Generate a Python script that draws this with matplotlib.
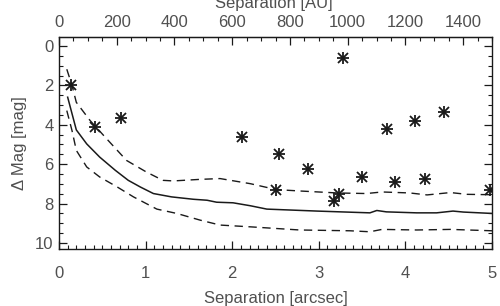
import matplotlib
matplotlib.use("Agg")
import matplotlib.pyplot as plt
from matplotlib.ticker import MultipleLocator, FixedLocator

plt.rcParams['font.family'] = ['Liberation Sans', 'DejaVu Sans']

# Detected companions / candidates (separation [arcsec], delta mag)
star_sep = [0.135, 0.42, 0.72, 2.11, 2.54, 2.51, 2.88, 3.18, 3.23, 3.28, 3.50, 3.79, 3.88, 4.11, 4.23, 4.44, 4.98]
star_dmag = [2.0, 4.1, 3.67, 4.63, 5.49, 7.3, 6.23, 7.86, 7.53, 0.62, 6.65, 4.2, 6.88, 3.79, 6.77, 3.33, 7.29]

# Median contrast curve
med_sep = [0.10, 0.20, 0.32, 0.47, 0.65, 0.80, 0.94, 1.09, 1.30, 1.55, 1.71, 1.82, 2.01, 2.21, 2.40, 2.98, 3.59, 3.67, 3.78, 4.13, 4.36, 4.55, 4.67, 5.0]
med_dmag = [2.6, 4.26, 4.97, 5.64, 6.31, 6.82, 7.16, 7.49, 7.66, 7.78, 7.83, 7.93, 7.96, 8.11, 8.28, 8.38, 8.47, 8.35, 8.42, 8.47, 8.47, 8.38, 8.43, 8.5]

# Upper (shallow) contrast envelope
up_sep = [0.09, 0.15, 0.20, 0.36, 0.55, 0.78, 1.01, 1.20, 1.32, 1.63, 1.86, 2.21, 2.51, 2.78, 3.21, 3.55, 3.73, 4.05, 4.25, 4.52, 4.71, 5.0]
up_dmag = [1.18, 2.0, 2.86, 3.79, 4.71, 5.81, 6.4, 6.82, 6.85, 6.77, 6.73, 6.99, 7.29, 7.36, 7.46, 7.49, 7.41, 7.46, 7.56, 7.44, 7.53, 7.55]

# Lower (deep) contrast envelope
lo_sep = [0.09, 0.15, 0.20, 0.32, 0.47, 0.67, 0.86, 1.13, 1.36, 1.63, 1.86, 2.21, 2.78, 3.36, 3.59, 3.73, 4.13, 4.52, 5.0]
lo_dmag = [3.28, 4.29, 5.3, 6.14, 6.65, 7.15, 7.66, 8.28, 8.5, 8.84, 9.09, 9.18, 9.34, 9.38, 9.43, 9.31, 9.34, 9.31, 9.38]

# Top axis ticks [AU]
au_ticks = [0, 200, 400, 600, 800, 1000, 1200, 1400]

AU_PER_ARCSEC = 300.0

text_c = '#505050'
line_c = '#1a1a1a'
FS = 12

fig = plt.figure(figsize=(5.0, 3.06), dpi=100)
ax = fig.add_axes([0.118, 0.1853, 0.866, 0.6947])

ax.plot(med_sep, med_dmag, color=line_c, lw=1.1)
ax.plot(up_sep, up_dmag, color=line_c, lw=1.0, ls=(0, (6, 4)))
ax.plot(lo_sep, lo_dmag, color=line_c, lw=1.0, ls=(0, (6, 4)))

ax.plot(star_sep, star_dmag, ls='none', marker='+', ms=8.5, mew=1.3, color=line_c)
ax.plot(star_sep, star_dmag, ls='none', marker='x', ms=6.5, mew=1.3, color=line_c)

ax.set_xlim(0, 5)
ax.set_ylim(10.32, -0.47)

ax.xaxis.set_major_locator(MultipleLocator(1))
ax.xaxis.set_minor_locator(MultipleLocator(0.1))
ax.yaxis.set_major_locator(MultipleLocator(2))
ax.yaxis.set_minor_locator(MultipleLocator(0.5))

ax.tick_params(which='both', direction='in', right=True, top=False, colors=line_c,
               labelcolor=text_c, labelsize=FS)
ax.tick_params(which='major', length=5.5, width=0.9)
ax.tick_params(which='minor', length=2.7, width=0.8)
ax.tick_params(axis='x', pad=12)
ax.tick_params(axis='y', pad=4)

for s in ax.spines.values():
    s.set_color(line_c)
    s.set_linewidth(1.0)

secax = ax.secondary_xaxis('top', functions=(lambda x: x * AU_PER_ARCSEC,
                                             lambda a: a / AU_PER_ARCSEC))
secax.xaxis.set_major_locator(FixedLocator(au_ticks))
secax.xaxis.set_minor_locator(MultipleLocator(50))
secax.tick_params(which='both', direction='in', colors=line_c, labelcolor=text_c, labelsize=FS)
secax.tick_params(which='major', length=5.5, width=0.9, pad=5)
secax.tick_params(which='minor', length=2.7, width=0.8)
secax.spines['top'].set_color(line_c)

ax.set_xlabel('Separation [arcsec]', color=text_c, fontsize=FS, labelpad=7)
ax.set_ylabel('\u0394 Mag [mag]', color=text_c, fontsize=FS, labelpad=6)
fig.text(0.5475, 0.99, 'Separation [AU]', color=text_c, fontsize=FS,
         ha='center', va='center')

fig.savefig('out.png', dpi=100)
